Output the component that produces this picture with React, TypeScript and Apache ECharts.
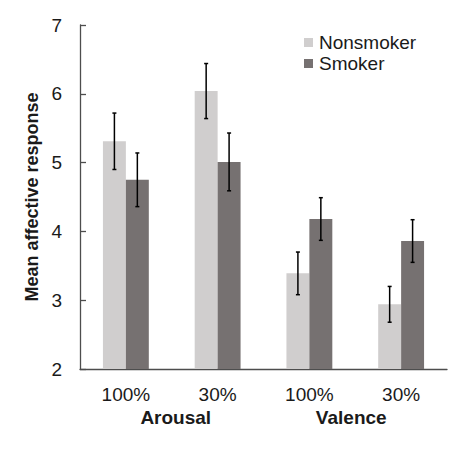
import React, { useEffect, useRef } from "react";
import * as echarts from "echarts";

const categories = ["100%", "30%", "100%", "30%"];
const groups = ["Arousal", "Valence"];
const nonsmoker = [5.31, 6.04, 3.39, 2.94];
const nonsmokerErr = [0.41, 0.4, 0.31, 0.26];
const smoker = [4.75, 5.01, 4.18, 3.86];
const smokerErr = [0.39, 0.42, 0.31, 0.31];
const yTicks = { min: 2, max: 7, interval: 1 };

const FONT = "Liberation Sans, Arial, sans-serif";
const TEXT = "#1a1a1a";

function errorSeries(name: string, values: number[], errs: number[], side: number) {
  return {
    type: "custom",
    name: name + " error",
    z: 10,
    silent: true,
    data: values.map((v, i) => [i, v - errs[i], v + errs[i]]),
    encode: { x: 0, y: [1, 2] },
    renderItem: (params: any, api: any) => {
      const idx = api.value(0);
      const lo = api.coord([idx, api.value(1)]);
      const hi = api.coord([idx, api.value(2)]);
      const band = api.size([1, 0])[0];
      const bw = band * 0.25;
      const x = lo[0] + (side * bw) / 2;
      const cap = 2;
      const style = { stroke: "#000", lineWidth: 1.5 };
      return {
        type: "group",
        children: [
          { type: "line", shape: { x1: x, y1: lo[1], x2: x, y2: hi[1] }, style },
          { type: "line", shape: { x1: x - cap, y1: lo[1], x2: x + cap, y2: lo[1] }, style },
          { type: "line", shape: { x1: x - cap, y1: hi[1], x2: x + cap, y2: hi[1] }, style },
        ],
      };
    },
  };
}

export default function App() {
  const ref = useRef<HTMLDivElement>(null);
  useEffect(() => {
    if (!ref.current) return;
    const chart = echarts.init(ref.current, undefined, { renderer: "svg" });
    chart.setOption({
      animation: false,
      textStyle: { fontFamily: FONT },
      grid: { left: 80, right: 10, top: 25, bottom: 81, containLabel: false },
      legend: {
        orient: "vertical",
        left: 299,
        top: 28,
        itemWidth: 9,
        itemHeight: 9,
        itemGap: 2,
        icon: "rect",
        data: ["Nonsmoker", "Smoker"],
        textStyle: { fontSize: 19, color: TEXT, fontFamily: FONT, padding: [0, 0, 0, 1] },
      },
      xAxis: [
        {
          type: "category",
          data: categories,
          axisLine: { show: true, lineStyle: { color: "#4d4d4d", width: 1.3 } },
          axisTick: { show: false },
          axisLabel: { fontSize: 19, color: TEXT, margin: 16, fontFamily: FONT },
        },
        {
          type: "category",
          data: groups,
          position: "bottom",
          offset: 23,
          axisLine: { show: false },
          axisTick: { show: false },
          axisLabel: {
            fontSize: 19,
            fontWeight: "bold",
            color: TEXT,
            margin: 16,
            fontFamily: FONT,
            formatter: (v: string, i: number) => (i === 0 ? "{a|" + v + "}" : "{b|" + v + "}"),
            rich: {
              a: { fontSize: 19, fontWeight: "bold", color: TEXT, fontFamily: FONT, padding: [0, 0, 0, 8] },
              b: { fontSize: 19, fontWeight: "bold", color: TEXT, fontFamily: FONT, padding: [0, 8, 0, 0] },
            },
          },
        },
      ],
      yAxis: {
        type: "value",
        min: yTicks.min,
        max: yTicks.max,
        interval: yTicks.interval,
        name: "Mean affective response",
        nameLocation: "middle",
        nameGap: 37,
        nameTextStyle: { fontSize: 18, fontWeight: "bold", color: TEXT, fontFamily: FONT },
        axisLine: { show: true, lineStyle: { color: "#4d4d4d", width: 1.3 } },
        axisTick: { show: true, inside: true, length: 6, lineStyle: { color: "#4d4d4d", width: 1.3 } },
        axisLabel: { fontSize: 19, color: TEXT, margin: 18, fontFamily: FONT },
        splitLine: { show: false },
      },
      series: [
        {
          type: "bar",
          name: "Nonsmoker",
          data: nonsmoker,
          barWidth: "25%",
          barGap: "0%",
          itemStyle: { color: "#d0cece" },
        },
        {
          type: "bar",
          name: "Smoker",
          data: smoker,
          barWidth: "25%",
          barGap: "0%",
          itemStyle: { color: "#767171" },
        },
        errorSeries("Nonsmoker", nonsmoker, nonsmokerErr, -1),
        errorSeries("Smoker", smoker, smokerErr, 1),
      ],
    });
    return () => chart.dispose();
  }, []);
  return <div ref={ref} style={{ width: 457, height: 450, margin: -8 }} />;
}
